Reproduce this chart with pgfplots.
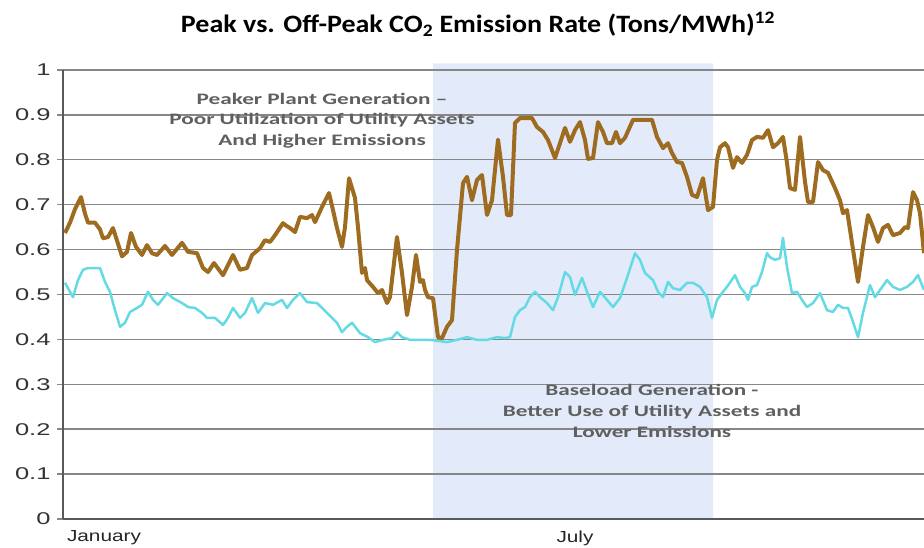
\documentclass[border=0pt]{standalone}
\usepackage{pgfplots}
\pgfplotsset{compat=1.18}
\usepackage{fontspec}
\setmainfont{Liberation Sans}
\newfontfamily\titlefont{Carlito}[FakeStretch=1.12]
\newfontfamily\annfont{Carlito}[FakeStretch=1.45]
\newfontfamily\tickfont{Liberation Sans}[FakeStretch=1.5]
\newfontfamily\xtickfont{Liberation Sans}[FakeStretch=1.3]
\definecolor{peakc}{RGB}{158,108,32}
\definecolor{offc}{RGB}{100,218,228}
\definecolor{shade}{RGB}{227,235,250}
\definecolor{gridc}{RGB}{135,135,135}
\definecolor{annc}{RGB}{95,95,95}
\begin{document}
\begin{tikzpicture}
\path[use as bounding box] (0,0) rectangle (924pt,548pt);
\node[font=\titlefont\bfseries\fontsize{25}{27}\selectfont, text=black] at (478pt,524pt) {Peak vs. Off-Peak CO\textsubscript{2} Emission Rate (Tons/MWh)\textsuperscript{12}};
% background shading axis
\begin{axis}[
  at={(63pt,29pt)}, anchor=south west,
  scale only axis, width=861pt, height=449pt,
  xmin=63, xmax=924, ymin=0, ymax=1,
  hide axis, clip=false,
]
\addplot[fill=shade, draw=none] coordinates {(433,0) (433,1.015) (713,1.015) (713,0)} \closedcycle;
\end{axis}
\begin{axis}[
  at={(63pt,29pt)}, anchor=south west,
  scale only axis, width=861pt, height=449pt,
  xmin=63, xmax=924, ymin=0, ymax=1,
  axis lines*=left,
  axis line style={black!65, line width=1.3pt},
  ytick={0,0.1,0.2,0.3,0.4,0.5,0.6,0.7,0.8,0.9,1},
  yticklabels={0,0.1,0.2,0.3,0.4,0.5,0.6,0.7,0.8,0.9,1},
  xtick={104,575}, xticklabels={January,July},
  x tick style={draw=none},
  y tick style={gridc, line width=1.4pt},
  tick align=outside, major tick length=6pt,
  ymajorgrids, grid style={gridc, line width=1.4pt},
  yticklabel style={font=\tickfont\fontsize{17}{17}\selectfont, text=black!80, xshift=-3pt},
  xticklabel style={font=\xtickfont\fontsize{16}{16}\selectfont, text=black!85, yshift=-2pt},
]
\addplot[offc, line width=2.5pt, line join=round] coordinates {
(65,0.526)(68,0.514)(73,0.494)(78,0.532)(83,0.555)(88,0.559)(100,0.559)(105,0.528)(110,0.506)(115,0.465)(120,0.428)(125,0.437)(130,0.461)(137,0.47)(142,0.477)(148,0.506)(153,0.488)(158,0.477)(167,0.503)(173,0.492)(182,0.481)(188,0.472)(195,0.47)(202,0.459)(207,0.448)(215,0.448)(223,0.432)(228,0.448)(233,0.47)(240,0.448)(245,0.459)(252,0.492)(258,0.459)(265,0.481)(273,0.477)(282,0.488)(287,0.47)(293,0.488)(300,0.503)(307,0.483)(317,0.481)(327,0.459)(337,0.437)(342,0.416)(347,0.428)(352,0.437)(360,0.414)(368,0.405)(375,0.394)(383,0.399)(392,0.403)(397,0.416)(402,0.405)(410,0.399)(420,0.399)(430,0.399)(447,0.394)(457,0.399)(467,0.405)(477,0.399)(487,0.399)(497,0.405)(505,0.403)(510,0.405)(515,0.45)(520,0.465)(525,0.472)(530,0.494)(535,0.506)(540,0.494)(547,0.481)(553,0.465)(558,0.494)(565,0.55)(570,0.539)(575,0.499)(582,0.537)(587,0.506)(593,0.472)(600,0.506)(607,0.488)(613,0.472)(620,0.492)(627,0.537)(635,0.592)(640,0.577)(645,0.548)(653,0.532)(658,0.506)(663,0.494)(668,0.528)(673,0.514)(680,0.51)(687,0.526)(693,0.526)(700,0.517)(707,0.494)(712,0.448)(717,0.488)(723,0.506)(727,0.517)(735,0.543)(740,0.517)(745,0.503)(748,0.488)(752,0.517)(757,0.521)(762,0.55)(767,0.592)(770,0.583)(775,0.577)(780,0.581)(783,0.626)(787,0.561)(792,0.503)(797,0.506)(802,0.488)(807,0.472)(813,0.481)(820,0.503)(827,0.465)(833,0.461)(838,0.477)(843,0.47)(848,0.47)(853,0.439)(858,0.405)(863,0.459)(870,0.521)(875,0.494)(880,0.51)(887,0.532)(893,0.517)(900,0.51)(907,0.517)(913,0.528)(918,0.543)(924,0.51)
};
\addplot[peakc, line width=4pt, line join=round] coordinates {
(65,0.637)(70,0.66)(75,0.69)(81,0.717)(85,0.68)(88,0.66)(95,0.66)(100,0.645)(103,0.625)(108,0.628)(113,0.648)(117,0.62)(122,0.585)(127,0.595)(131,0.637)(136,0.606)(142,0.588)(147,0.61)(152,0.592)(157,0.588)(165,0.608)(172,0.588)(182,0.615)(188,0.595)(197,0.592)(203,0.559)(208,0.55)(214,0.57)(223,0.543)(233,0.588)(240,0.555)(247,0.559)(252,0.588)(260,0.603)(265,0.621)(270,0.617)(275,0.632)(283,0.659)(285,0.655)(290,0.648)(295,0.639)(300,0.673)(307,0.67)(312,0.677)(315,0.661)(322,0.695)(329,0.726)(333,0.688)(337,0.648)(342,0.606)(345,0.65)(349,0.759)(355,0.715)(358,0.65)(362,0.548)(365,0.559)(367,0.532)(373,0.517)(378,0.503)(382,0.51)(387,0.481)(390,0.494)(397,0.628)(402,0.548)(407,0.454)(412,0.517)(416,0.588)(420,0.528)(423,0.532)(425,0.51)(428,0.494)(433,0.492)(438,0.405)(442,0.403)(447,0.428)(452,0.443)(457,0.599)(463,0.748)(467,0.762)(472,0.71)(477,0.755)(482,0.766)(487,0.677)(492,0.71)(498,0.845)(503,0.762)(507,0.677)(511,0.677)(515,0.882)(520,0.893)(532,0.893)(537,0.873)(543,0.862)(548,0.844)(555,0.804)(560,0.837)(565,0.871)(570,0.84)(575,0.866)(580,0.884)(585,0.844)(588,0.802)(593,0.804)(598,0.884)(603,0.862)(607,0.837)(612,0.837)(616,0.862)(620,0.837)(625,0.849)(633,0.889)(640,0.889)(652,0.889)(657,0.851)(663,0.826)(668,0.837)(672,0.815)(677,0.795)(682,0.793)(687,0.762)(692,0.722)(697,0.717)(703,0.759)(708,0.688)(713,0.695)(717,0.8)(720,0.828)(725,0.837)(728,0.828)(733,0.782)(737,0.806)(742,0.793)(747,0.811)(752,0.844)(757,0.851)(763,0.849)(768,0.866)(773,0.828)(778,0.837)(783,0.851)(787,0.793)(790,0.737)(795,0.733)(800,0.851)(805,0.751)(808,0.706)(813,0.706)(818,0.795)(823,0.777)(828,0.771)(835,0.737)(840,0.71)(843,0.681)(847,0.688)(852,0.615)(858,0.528)(863,0.606)(868,0.677)(873,0.65)(878,0.617)(883,0.648)(888,0.655)(893,0.632)(900,0.637)(905,0.65)(908,0.648)(913,0.728)(917,0.71)(920,0.681)(924,0.592)
};
\node[align=center, font=\annfont\bfseries\fontsize{16}{20.5}\selectfont, text=annc] at (axis cs:322,0.888) {Peaker Plant Generation –\\Poor Utilization of Utility Assets\\And Higher Emissions};
\node[align=center, font=\annfont\bfseries\fontsize{16}{21}\selectfont, text=annc] at (axis cs:652,0.24) {Baseload Generation -\\Better Use of Utility Assets and\\Lower Emissions};
\end{axis}
\end{tikzpicture}
\end{document}
